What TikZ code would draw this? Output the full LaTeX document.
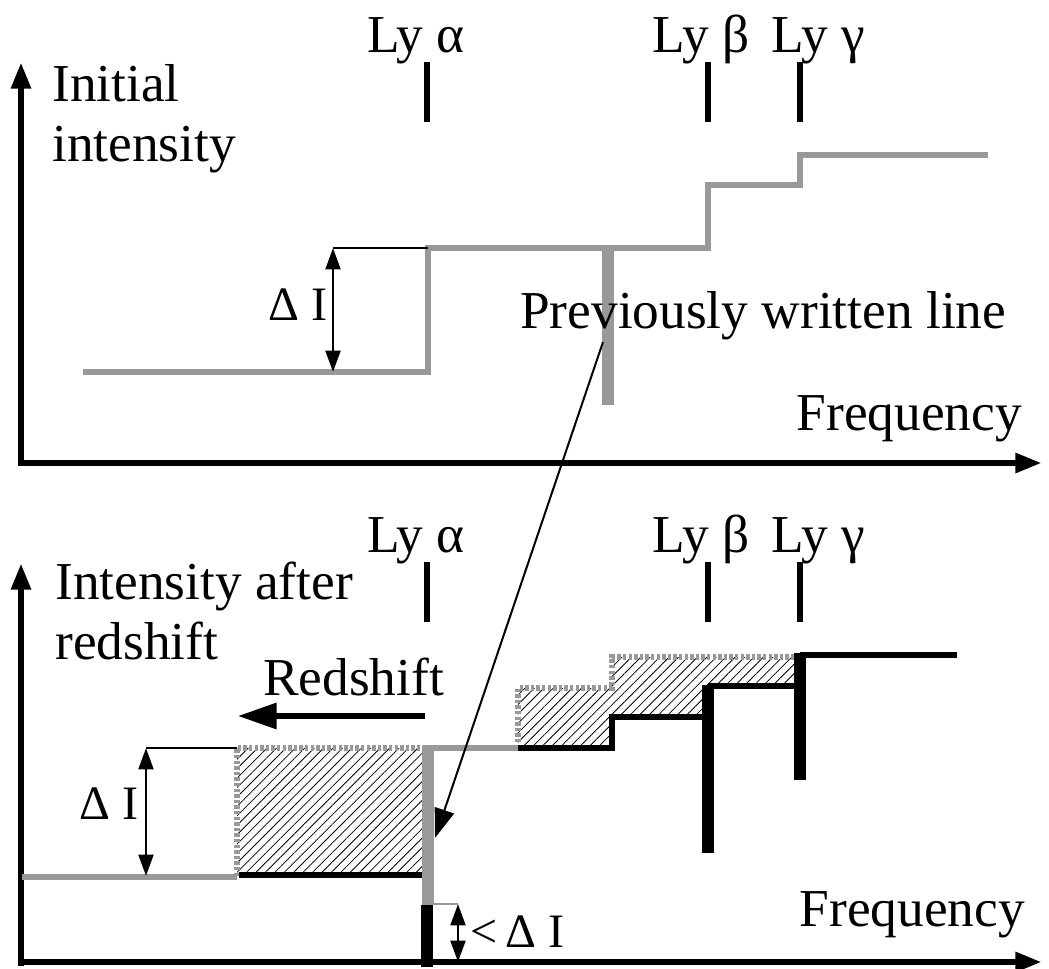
\documentclass[tikz,border=0pt]{standalone}
\usepackage{fontspec}
\setmainfont{Liberation Serif}
\usetikzlibrary{arrows.meta,patterns.meta}
\definecolor{lg}{RGB}{153,153,153}
\begin{document}
\begin{tikzpicture}[x=0.75pt,y=-0.75pt,
  every node/.style={inner sep=0pt, font=\fontsize{40}{45}\selectfont},
  small/.style={font=\fontsize{36}{42}\selectfont},
  axis/.style={line width=5pt, -{Triangle[length=20pt,width=14pt]}},
  tick/.style={line width=4.5pt},
  grayline/.style={lg, line width=3.8pt, line cap=butt, line join=miter},
  blackline/.style={black, line width=3.8pt, line join=miter},
  dotline/.style={lg, line width=3.8pt, dash pattern=on 2.6pt off 1.6pt},
  thickgray/.style={lg, line width=9pt},
  thickblack/.style={black, line width=9.5pt},
  thin/.style={line width=1pt},
  dimarrow/.style={line width=2.2pt, {Triangle[length=16pt,width=11pt]}-{Triangle[length=16pt,width=11pt]}},
  hatch/.style={pattern={Lines[angle=45,distance=5pt,line width=0.6pt]}}]
\useasboundingbox (0,0) rectangle (1049,968);

% ---------------- top panel ----------------
\draw[axis] (21,466) -- (21,62);
\draw[axis] (18,463) -- (1042,463);
\node[anchor=north west, align=left] (ylab1) at (52,64) {Initial\\intensity};
\node[anchor=base] (la1) at (416,52) {Ly α};
\node[anchor=base] (lb1) at (701,52) {Ly β};
\node[anchor=base] (lc1) at (818,52) {Ly γ};
\draw[tick] (427,62) -- (427,122);
\draw[tick] (708,62) -- (708,122);
\draw[tick] (800,62) -- (800,122);
\node[anchor=base east] (freq1) at (1022,430) {Frequency};

\draw[grayline] (83,372) -- (428,372) -- (428,248) -- (708,248) -- (708,185) -- (800,185) -- (800,155) -- (988,155);
\draw[thickgray] (608,248) -- (608,405);
\draw[thin] (333,248) -- (428,248);
\draw[dimarrow] (333,248) -- (333,372);
\node[small, anchor=base east] (di1) at (328,320) {Δ I};
\node[anchor=base west] (prev) at (520,328) {Previously written line};

% ---------------- bottom panel ----------------
\draw[axis] (21,966) -- (21,563);
\draw[axis] (18,962) -- (1042,962);
\node[anchor=north west, align=left] (ylab2) at (55,562) {Intensity after\\redshift};
\node[anchor=base] (la2) at (416,552) {Ly α};
\node[anchor=base] (lb2) at (701,552) {Ly β};
\node[anchor=base] (lc2) at (818,552) {Ly γ};
\draw[tick] (427,562) -- (427,622);
\draw[tick] (708,562) -- (708,622);
\draw[tick] (800,562) -- (800,622);
\node[anchor=base east] (freq2) at (1025,926) {Frequency};

\node[anchor=base west] (rs) at (263,695) {Redshift};
\coordinate (rsA) at (425,716);
\coordinate (rsB) at (238,716);
\draw[line width=4pt, -{Triangle[length=29pt,width=19pt]}] (rsA) -- (rsB);

% hatched areas
\fill[hatch] (237,748) rectangle (428,876);
\fill[hatch] (518,748) -- (518,688) -- (612,688) -- (612,657) -- (800,657) -- (800,686) -- (708,686) -- (708,717) -- (612,717) -- (612,748) -- cycle;
% dotted original outline
\draw[dotline] (237,876) -- (237,748) -- (428,748);
\draw[dotline] (518,748) -- (518,688) -- (612,688) -- (612,657) -- (800,657);

% solid spectrum
\draw[grayline] (22,877) -- (237,877);
\draw[blackline] (239,875) -- (428,875);
\draw[grayline] (428,748) -- (518,748);
\draw[blackline] (518,748) -- (612,748) -- (612,717) -- (708,717);
\draw[blackline] (708,686) -- (800,686);
\draw[blackline] (800,655) -- (957,655);
\draw[thickgray] (428,745) -- (428,905);
\draw[thickblack] (427,905) -- (427,967);
\draw[thickblack] (708,685) -- (708,853);
\draw[thickblack] (800,653) -- (800,780);

% Delta I markers
\draw[thin] (146,748) -- (237,748);
\draw[dimarrow] (146,748) -- (146,876);
\node[small, anchor=base east] (di2) at (139,819) {Δ I};
\draw[lg, line width=1pt] (430,904) -- (458,904);
\draw[dimarrow] (458,904) -- (458,962);
\node[small, anchor=base west] (di3) at (470,947) {<\,Δ I};

% connector
\coordinate (cstart) at (603,342);
\coordinate (cend) at (435,838);
\draw[line width=1.5pt, -{Triangle[length=22pt,width=15pt]}] (cstart) -- (cend);
\end{tikzpicture}
\end{document}
